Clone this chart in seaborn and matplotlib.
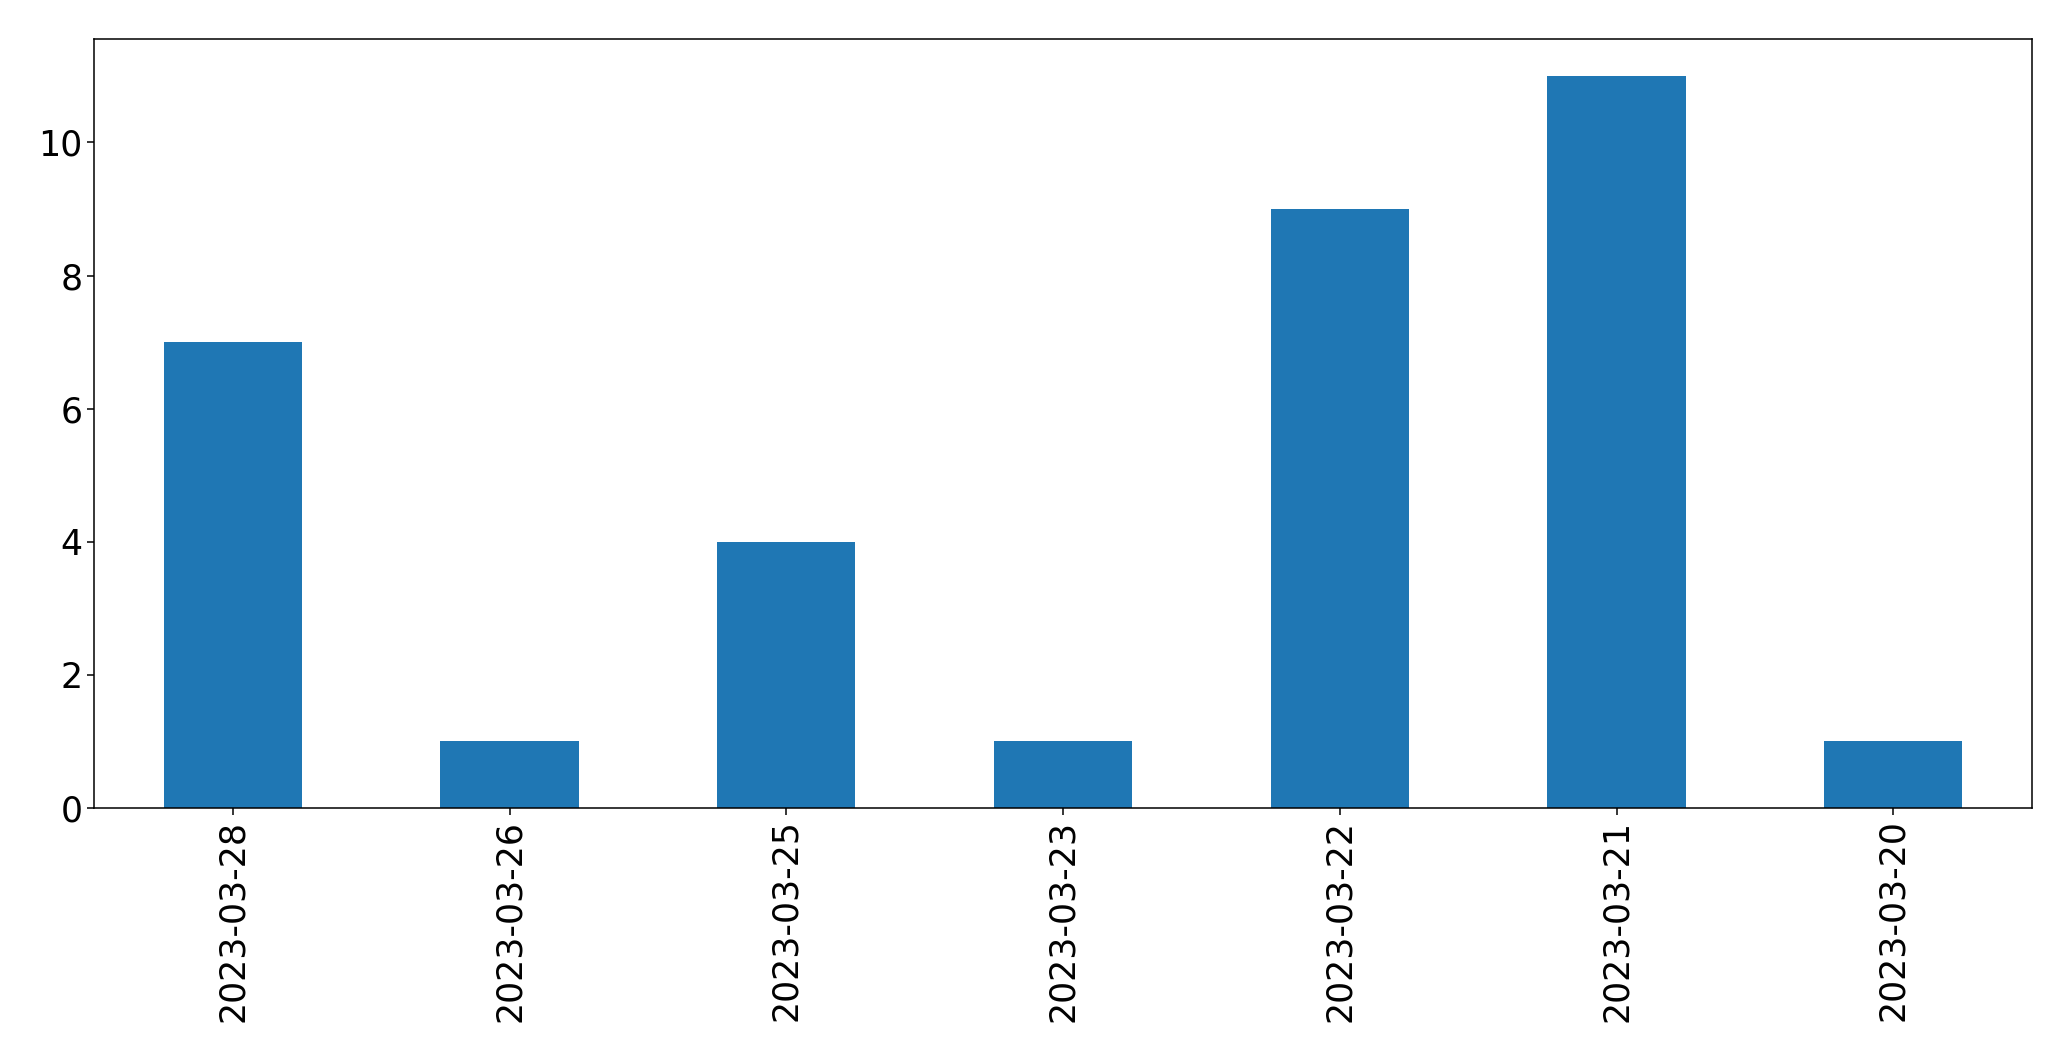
import matplotlib
matplotlib.use("Agg")
import matplotlib.pyplot as plt
import seaborn as sns
import pandas as pd

dates = ["2023-03-28", "2023-03-26", "2023-03-25", "2023-03-23",
         "2023-03-22", "2023-03-21", "2023-03-20"]
counts = [7, 1, 4, 1, 9, 11, 1]

df = pd.DataFrame({"date": dates, "count": counts})

plt.rcParams["font.family"] = ["DejaVu Sans"]
fig = plt.figure(figsize=(20.71, 10.61), dpi=100)
ax = fig.add_axes([0.0456, 0.2385, 0.981 - 0.0456, 0.963 - 0.2385])
sns.barplot(data=df, x="date", y="count", order=dates, color="#1f77b4",
            saturation=1, width=0.5, linewidth=0, ax=ax)
ax.set_xlim(-0.5, len(dates) - 0.5)
ax.set_ylim(0, max(counts) * 1.05)
ax.set_xlabel("")
ax.set_ylabel("")
ax.tick_params(axis="both", labelsize=25, length=4.9, width=1.1)
ax.tick_params(axis="x", labelrotation=90)
for s in ax.spines.values():
    s.set_linewidth(1.1)
    s.set_color("black")
fig.savefig("out.png", dpi=100)
